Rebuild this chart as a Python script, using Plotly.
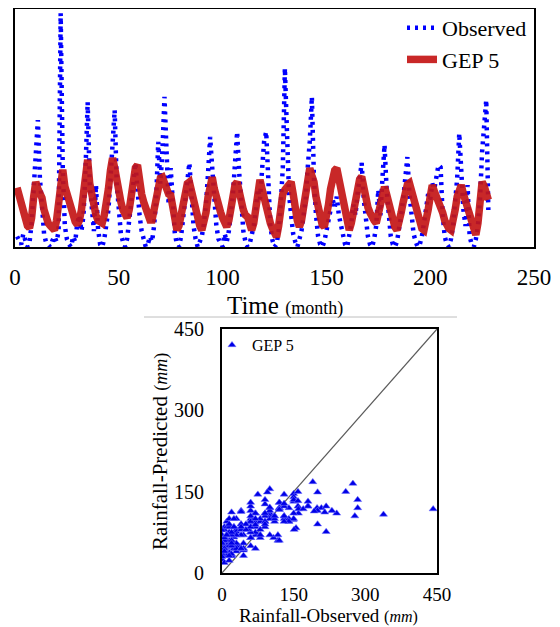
import plotly.graph_objects as go

# ---------------- data ----------------
months = list(range(1, 229))

observed = [
    20, 10, 5, 25, 12, 0, 8, 45, 110, 180, 240, 130,
    70, 25, 8, 3, 0, 12, 20, 10, 30, 442, 150, 40,
    15, 5, 0, 20, 10, 45, 60, 30, 60, 150, 274, 120,
    60, 30, 117, 35, 5, 0, 15, 40, 70, 130, 190, 259,
    120, 60, 25, 10, 0, 15, 45, 80, 120, 159, 100, 60,
    30, 10, 0, 5, 20, 10, 40, 90, 199, 120, 180, 284,
    160, 80, 149, 70, 25, 5, 0, 20, 60, 100, 140, 159,
    100, 40, 15, 0, 10, 20, 45, 80, 140, 208, 150, 90,
    40, 15, 5, 0, 25, 10, 30, 60, 100, 160, 218, 140,
    70, 30, 10, 0, 5, 20, 40, 70, 110, 90, 150, 200,
    218, 120, 40, 13, 0, 5, 30, 80, 150, 338, 200, 100,
    60, 25, 10, 0, 15, 30, 60, 90, 150, 200, 284, 130,
    60, 20, 5, 0, 10, 30, 55, 70, 90, 75, 95, 60,
    40, 15, 5, 0, 20, 45, 80, 60, 100, 130, 159, 90,
    50, 20, 5, 0, 15, 40, 108, 60, 130, 193, 110, 50,
    20, 5, 0, 10, 30, 60, 90, 130, 170, 100, 60, 25,
    10, 0, 5, 20, 45, 70, 100, 90, 120, 110, 140, 155,
    151, 60, 20, 5, 0, 15, 40, 80, 130, 215, 120, 70,
    40, 117, 20, 5, 0, 15, 40, 90, 180, 230, 278, 70,
]

predicted = [
    112, 95, 80, 66, 50, 40, 36, 55, 95, 123, 110, 100,
    93, 70, 55, 45, 40, 35, 32, 50, 80, 118, 146, 115,
    100, 85, 79, 60, 48, 42, 50, 70, 100, 140, 165, 120,
    95, 76, 60, 50, 45, 45, 60, 80, 110, 145, 168, 150,
    120, 95, 85, 70, 60, 55, 70, 95, 130, 150, 155, 115,
    100, 85, 70, 55, 51, 51, 70, 95, 120, 130, 132, 120,
    110, 100, 98, 70, 45, 32, 40, 60, 85, 110, 120, 123,
    105, 90, 85, 60, 40, 32, 45, 65, 95, 120, 132, 110,
    90, 75, 66, 55, 45, 38, 50, 75, 100, 118, 123, 100,
    85, 70, 60, 57, 45, 32, 45, 75, 105, 127, 110, 90,
    76, 60, 45, 35, 25, 19, 40, 80, 100, 108, 115, 120,
    123, 100, 70, 50, 38, 50, 75, 105, 135, 149, 135, 123,
    95, 70, 50, 42, 38, 55, 80, 110, 135, 145, 149, 130,
    113, 90, 60, 40, 32, 45, 70, 95, 115, 128, 133, 110,
    90, 75, 65, 55, 50, 45, 65, 85, 105, 114, 100, 80,
    60, 45, 38, 32, 45, 65, 85, 105, 118, 121, 105, 85,
    70, 55, 45, 35, 32, 45, 70, 95, 117, 105, 95, 83,
    80, 65, 50, 40, 35, 32, 45, 70, 95, 112, 117, 100,
    85, 70, 55, 40, 30, 23, 45, 90, 123, 115, 105, 89,
]

time_ticks = [0, 50, 100, 150, 200, 250]
scatter_ticks = [0, 150, 300, 450]
diag = [0, 450]

# page is 560x627; body has an 8px margin, so the figure starts at (8, 8)
OFF = 8
W, H = 560 - OFF, 627 - OFF
SERIF = "Liberation Serif, Times New Roman, serif"


def px_x(v):
    return (v - OFF) / W


def px_y(v):
    return 1 - (v - OFF) / H


fig = go.Figure()

# ---------------- top time series ----------------
fig.add_trace(go.Scatter(
    x=months, y=observed, mode="lines", name="Observed",
    line=dict(color="rgb(0,0,255)", width=4.5, dash="3px,5px"),
    xaxis="x", yaxis="y", legend="legend",
))
fig.add_trace(go.Scatter(
    x=months, y=predicted, mode="lines", name="GEP 5",
    line=dict(color="rgb(196,22,22)", width=7.5),
    opacity=0.92,
    xaxis="x", yaxis="y", legend="legend",
))

# ---------------- scatter ----------------
fig.add_trace(go.Scatter(
    x=diag, y=diag, mode="lines", showlegend=False,
    line=dict(color="rgb(90,90,90)", width=1.2),
    xaxis="x2", yaxis="y2", hoverinfo="skip",
))
fig.add_trace(go.Scatter(
    x=observed, y=predicted, mode="markers", name="GEP 5",
    marker=dict(symbol="triangle-up", size=7, color="rgb(0,0,230)",
                line=dict(color="rgba(110,110,255,0.9)", width=0.6)),
    xaxis="x2", yaxis="y2", legend="legend2",
))

axis_common = dict(showgrid=False, zeroline=False, showline=True, mirror=True,
                   linecolor="black", linewidth=2, automargin=False)

fig.update_layout(
    width=W, height=H,
    margin=dict(l=0, r=0, t=0, b=0, pad=0, autoexpand=False),
    paper_bgcolor="white", plot_bgcolor="white",
    font=dict(family=SERIF, color="black"),
    xaxis=dict(domain=[px_x(15), px_x(534)], range=[0, 250], anchor="y",
               tickvals=time_ticks, ticks="", ticklabelstandoff=8,
               tickfont=dict(size=23, family=SERIF), **axis_common),
    yaxis=dict(domain=[px_y(247), px_y(9)], range=[0, 450], anchor="x",
               showticklabels=False, ticks="", **axis_common),
    xaxis2=dict(domain=[px_x(222), px_x(437)], range=[0, 450], anchor="y2",
                tickvals=scatter_ticks, ticks="", ticklabelstandoff=3,
                tickfont=dict(size=19, family=SERIF), **axis_common),
    yaxis2=dict(domain=[px_y(573), px_y(329)], range=[0, 450], anchor="x2",
                tickvals=scatter_ticks, ticks="", ticklabelstandoff=12,
                tickfont=dict(size=20, family=SERIF), **axis_common),
    legend=dict(x=px_x(402), y=px_y(7), xanchor="left", yanchor="top",
                bgcolor="rgba(0,0,0,0)", borderwidth=0,
                font=dict(size=22, family=SERIF), tracegroupgap=0,
                itemwidth=30),
    legend2=dict(x=px_x(212), y=px_y(328), xanchor="left", yanchor="top",
                 bgcolor="rgba(0,0,0,0)", borderwidth=0,
                 font=dict(size=16, family=SERIF), itemwidth=30),
    showlegend=True,
)

fig.add_annotation(
    x=px_x(285), y=px_y(306), xref="paper", yref="paper",
    text="Time <span style='font-size:18px'>(month)</span>",
    showarrow=False, font=dict(size=25, family=SERIF),
    xanchor="center", yanchor="middle",
)
fig.add_annotation(
    x=px_x(328), y=px_y(615), xref="paper", yref="paper",
    text="Rainfall-Observed <span style='font-size:16px'>(<i>mm</i>)</span>",
    showarrow=False, font=dict(size=19, family=SERIF),
    xanchor="center", yanchor="middle",
)
fig.add_annotation(
    x=px_x(160), y=px_y(452), xref="paper", yref="paper",
    text="Rainfall-Predicted <span style='font-size:18px'>(<i>mm</i>)</span>",
    showarrow=False, font=dict(size=21, family=SERIF), textangle=-90,
    xanchor="center", yanchor="middle",
)

fig.add_shape(type="line", xref="paper", yref="paper",
              x0=px_x(144), x1=px_x(457), y0=px_y(317), y1=px_y(317),
              line=dict(color="rgb(190,190,190)", width=1))

fig.write_html("out.html")
